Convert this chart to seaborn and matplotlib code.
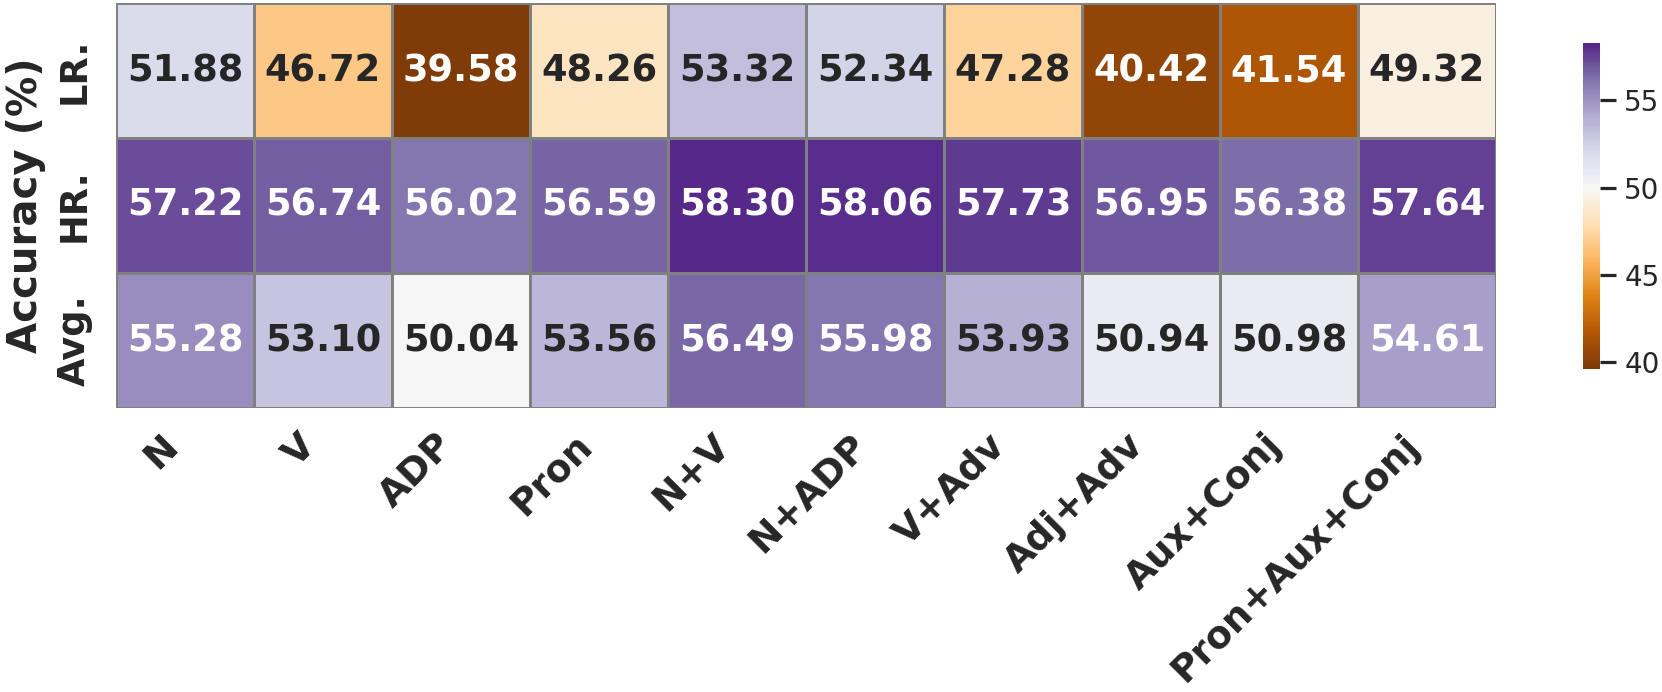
import numpy as np
import pandas as pd
import matplotlib
matplotlib.use("Agg")
import matplotlib.pyplot as plt
import seaborn as sns

categories = ["N", "V", "ADP", "Pron", "N+V", "N+ADP", "V+Adv", "Adj+Adv", "Aux+Conj", "Pron+Aux+Conj"]
rows = ["LR.", "HR.", "Avg."]
lr = [51.88, 46.72, 39.58, 48.26, 53.32, 52.34, 47.28, 40.42, 41.54, 49.32]
hr = [57.22, 56.74, 56.02, 56.59, 58.30, 58.06, 57.73, 56.95, 56.38, 57.64]
avg = [55.28, 53.10, 50.04, 53.56, 56.49, 55.98, 53.93, 50.94, 50.98, 54.61]

df = pd.DataFrame([lr, hr, avg], index=rows, columns=categories)

sns.set_theme(style="white")
plt.rcParams['font.family'] = ['DejaVu Sans']

fig = plt.figure(figsize=(16.62, 6.92), dpi=100)
ax = fig.add_axes([116/1662, 1 - 408/692, (1496 - 116)/1662, 405/692])
cax = fig.add_axes([1583/1662, 1 - 369/692, 17/1662, 326/692])

sns.heatmap(df, ax=ax, cbar_ax=cax, cmap="PuOr", center=50, annot=True, fmt=".2f",
            annot_kws={"fontsize": 26.5, "fontweight": "bold"},
            linewidths=2, linecolor="gray")

ax.set_xticklabels(categories, rotation=45, ha="right", fontsize=27, fontweight="bold")
ax.set_yticklabels(rows, rotation=90, va="center", fontsize=26.5, fontweight="bold")
ax.tick_params(axis="x", length=0, pad=14)
ax.tick_params(axis="y", length=0, pad=17)
ax.set_ylabel("Accuracy (%)", fontsize=29, fontweight="bold")
ax.yaxis.set_label_coords(-0.051, 0.5)
ax.set_xlabel("")
cax.tick_params(labelsize=20, length=11.5, width=2.3, color="#262626", right=True, pad=6)
cax.set_yticks([40, 45, 50, 55])

fig.savefig("out.png", dpi=100)
